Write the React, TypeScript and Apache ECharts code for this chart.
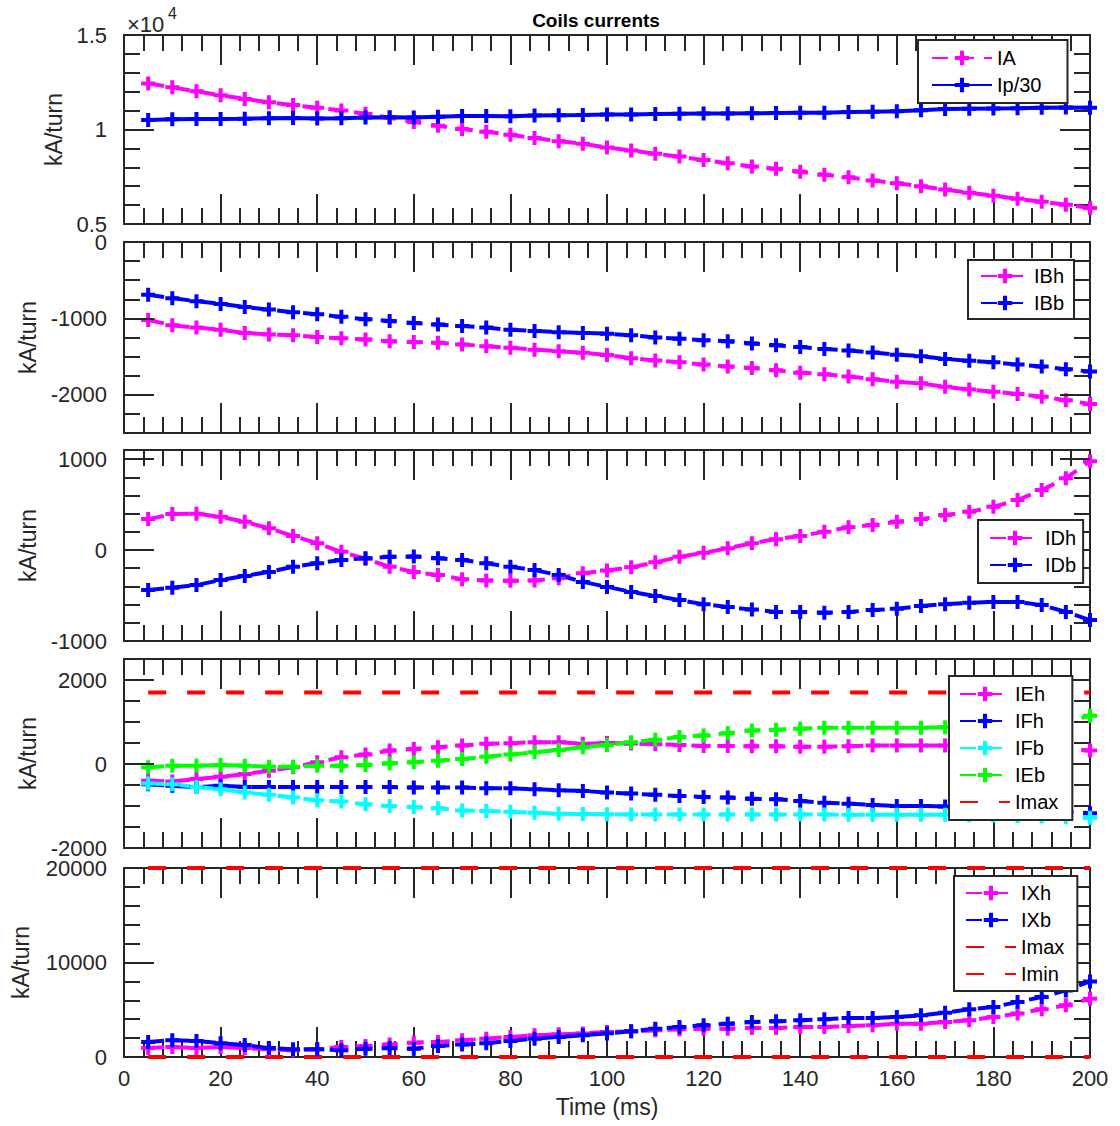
import React, { useEffect, useRef } from "react";
import * as echarts from "echarts";

// ---------- data ----------
const TIME = [5, 10, 15, 20, 25, 30, 35, 40, 45, 50, 55, 60, 65, 70, 75, 80, 85, 90, 95, 100,
  105, 110, 115, 120, 125, 130, 135, 140, 145, 150, 155, 160, 165, 170, 175, 180, 185, 190, 195, 200];
const LIMIT_TIME = [5, 200];

// Panel 1
const IA = [12440, 12230, 12020, 11810, 11620, 11440, 11290, 11150, 11000, 10830, 10620, 10400, 10200, 10030, 9880, 9720, 9550, 9380, 9240, 9050,
  8890, 8720, 8570, 8380, 8220, 8040, 7920, 7770, 7600, 7470, 7300, 7150, 7000, 6820, 6650, 6500, 6330, 6180, 6020, 5850];
const IP30 = [10500, 10540, 10550, 10560, 10570, 10600, 10610, 10580, 10590, 10640, 10650, 10640, 10670, 10720, 10720, 10700, 10740, 10760, 10770, 10790,
  10800, 10820, 10830, 10840, 10850, 10860, 10870, 10880, 10880, 10920, 10940, 10960, 11020, 11080, 11100, 11110, 11120, 11150, 11160, 11150];

// Panel 2
const IBH = [-1020, -1090, -1120, -1150, -1190, -1210, -1220, -1245, -1260, -1275, -1300, -1310, -1320, -1340, -1365, -1385, -1410, -1430, -1450, -1480,
  -1520, -1550, -1575, -1605, -1630, -1650, -1680, -1710, -1730, -1760, -1795, -1830, -1850, -1895, -1930, -1960, -1990, -2025, -2070, -2120];
const IBB = [-690, -735, -775, -810, -850, -885, -920, -945, -980, -1010, -1035, -1060, -1080, -1100, -1120, -1150, -1165, -1180, -1190, -1200,
  -1220, -1250, -1265, -1285, -1300, -1330, -1350, -1375, -1400, -1420, -1445, -1475, -1495, -1530, -1555, -1575, -1605, -1630, -1665, -1695];

// Panel 3
const IDH = [340, 395, 400, 365, 310, 240, 155, 75, -20, -95, -185, -240, -275, -320, -335, -338, -335, -310, -255, -225,
  -190, -135, -75, -30, 20, 75, 120, 155, 200, 250, 275, 310, 340, 385, 420, 475, 550, 660, 790, 975];
const IDB = [-440, -415, -385, -330, -285, -240, -185, -145, -110, -90, -75, -72, -90, -110, -145, -185, -220, -275, -350, -405,
  -460, -505, -550, -595, -625, -655, -680, -680, -690, -680, -660, -645, -615, -595, -580, -570, -570, -605, -680, -770];

// Panel 4
const IEH = [-400, -415, -360, -305, -240, -160, -80, 40, 160, 225, 320, 360, 400, 440, 480, 495, 520, 520, 480, 500,
  490, 470, 455, 430, 430, 420, 420, 410, 410, 420, 440, 440, 440, 440, 450, 450, 440, 420, 380, 320];
const IFH = [-480, -520, -550, -520, -545, -545, -545, -545, -545, -550, -550, -560, -560, -560, -580, -580, -600, -625, -640, -680,
  -705, -735, -760, -785, -800, -825, -840, -880, -920, -945, -975, -1000, -1000, -1010, -1030, -1050, -1070, -1100, -1130, -1170];
const IFB = [-465, -480, -545, -600, -680, -735, -800, -865, -895, -960, -1000, -1025, -1055, -1105, -1120, -1135, -1160, -1185, -1190, -1195,
  -1200, -1200, -1200, -1200, -1205, -1205, -1205, -1205, -1205, -1210, -1210, -1210, -1210, -1210, -1220, -1230, -1240, -1250, -1260, -1280];
const IEB = [-80, -40, -40, -25, -40, -65, -65, -40, -40, -25, 15, 40, 80, 120, 175, 225, 280, 335, 400, 455,
  520, 575, 640, 680, 735, 800, 815, 840, 865, 865, 865, 865, 865, 875, 880, 880, 890, 920, 1000, 1150];
const IMAX_E = [1700, 1700];

// Panel 5
const IXH = [950, 1060, 950, 1060, 950, 810, 710, 810, 1060, 1160, 1310, 1520, 1590, 1770, 1940, 2120, 2290, 2400, 2500, 2650,
  2720, 2820, 2930, 3000, 3000, 3070, 3070, 3170, 3170, 3280, 3350, 3530, 3530, 3700, 3880, 4230, 4590, 5050, 5470, 6170];
const IXB = [1590, 1770, 1700, 1450, 1270, 950, 810, 810, 710, 880, 950, 880, 1160, 1310, 1450, 1700, 1940, 2120, 2290, 2500,
  2720, 3000, 3170, 3350, 3530, 3700, 3770, 3880, 3990, 4130, 4130, 4230, 4410, 4690, 5050, 5290, 5820, 6350, 7050, 8000];
const IMAX_X = [20000, 20000];
const IMIN_X = [0, 0];

// Axes
const X_TICKS = [0, 20, 40, 60, 80, 100, 120, 140, 160, 180, 200];
const Y_MIN = [5000, -2500, -1000, -2000, 0];
const Y_MAX = [15000, 0, 1100, 2500, 20000];
const Y_MINOR = [1000, 250, 200, 500, 2000];
const Y_MAJOR = [
  [10000],
  [-2000, -1000],
  [0, 1000],
  [0, 2000],
  [10000],
];
const Y_LABELS = [
  [5000, 10000, 15000],
  [-2000, -1000, 0],
  [-1000, 0, 1000],
  [-2000, 0, 2000],
  [0, 10000, 20000],
];

// ---------- style / layout ----------
const FONT = "'Liberation Sans', Arial, Helvetica, sans-serif";
const AXIS = "#262626";
const MAGENTA = "#ff00ff";
const BLUE = "#0000ff";
const CYAN = "#00ffff";
const GREEN = "#00ff00";
const RED = "#ff0000";
const PLUS = "path://M5,0H9V5H14V9H9V14H5V9H0V5H5Z";
const PANEL_TOPS = [35, 242, 450, 659, 868];
const PANEL_HEIGHTS = [189, 191, 191, 189, 189];
const Y_NAME_GAP = [53, 85, 85, 85, 92];
const MAJOR_TICK_X = 6.2; // ~30px in x units

function series(name: string, p: number, xs: number[], ys: number[], color: string, dash: any, marker: boolean) {
  return {
    type: "line",
    name,
    xAxisIndex: p * 2,
    yAxisIndex: p * 2,
    data: xs.map((x, i) => [x, ys[i]]),
    symbol: marker ? PLUS : "none",
    symbolSize: 14,
    showSymbol: marker,
    showAllSymbol: true,
    lineStyle: { color, width: 4, type: dash, cap: "butt" },
    itemStyle: { color, borderWidth: 0 },
    clip: false,
    emphasis: { disabled: true },
    silent: true,
  };
}

// long (major) y ticks on both sides, drawn in the axes' own coordinates
function majorTicks(p: number) {
  const xMin = X_TICKS[0];
  const xMax = X_TICKS[X_TICKS.length - 1];
  const data: any[] = [];
  Y_MAJOR[p].forEach((v) => {
    data.push([{ coord: [xMin, v] }, { coord: [xMin + MAJOR_TICK_X, v] }]);
    data.push([{ coord: [xMax - MAJOR_TICK_X, v] }, { coord: [xMax, v] }]);
  });
  return {
    silent: true,
    symbol: ["none", "none"],
    label: { show: false },
    lineStyle: { color: AXIS, width: 2, type: "solid" },
    emphasis: { disabled: true },
    data,
  };
}

const DASH = [16, 10];
const RDASH = [18, 21];

function buildOption() {
  const grids: any[] = [];
  const xAxes: any[] = [];
  const yAxes: any[] = [];
  const tickLine = { color: AXIS, width: 2 };
  for (let p = 0; p < 5; p++) {
    grids.push({ left: 124, right: 30, top: PANEL_TOPS[p], height: PANEL_HEIGHTS[p], show: false });
    const last = p === 4;
    const xBase = {
      type: "value",
      gridIndex: p,
      offset: 0,
      min: X_TICKS[0],
      max: X_TICKS[X_TICKS.length - 1],
      interval: X_TICKS[1] - X_TICKS[0],
      axisLine: { show: true, onZero: false, lineStyle: tickLine },
      axisTick: { show: true, inside: true, length: 30, lineStyle: tickLine },
      minorTick: { show: true, splitNumber: 5, length: 16, lineStyle: tickLine },
      splitLine: { show: false },
      minorSplitLine: { show: false },
    };
    xAxes.push({
      ...xBase,
      position: "bottom",
      axisLabel: { show: last, margin: 10, fontSize: 22, color: AXIS, fontFamily: FONT },
      name: last ? "Time (ms)" : "",
      nameLocation: "middle",
      nameGap: 38,
      nameTextStyle: { fontSize: 23, color: AXIS, fontFamily: FONT },
    });
    xAxes.push({ ...xBase, position: "top", axisLabel: { show: false } });

    const labels = Y_LABELS[p];
    const fmt = (v: number) => {
      if (!labels.some((m) => Math.abs(m - v) < 1e-6)) return "";
      return p === 0 ? String(v / 10000) : String(v);
    };
    const yBase = {
      type: "value",
      gridIndex: p,
      offset: 0,
      min: Y_MIN[p],
      max: Y_MAX[p],
      interval: Y_MINOR[p],
      splitLine: { show: false },
      minorSplitLine: { show: false },
      axisLine: { show: true, onZero: false, lineStyle: tickLine },
      axisTick: { show: true, inside: true, length: 16, lineStyle: tickLine },
    };
    yAxes.push({
      ...yBase,
      position: "left",
      axisLabel: { show: true, margin: 17, fontSize: 22, color: AXIS, fontFamily: FONT, formatter: fmt },
      name: "kA/turn",
      nameLocation: "middle",
      nameGap: Y_NAME_GAP[p],
      nameTextStyle: { fontSize: 23, color: AXIS, fontFamily: FONT },
    });
    yAxes.push({ ...yBase, position: "right", axisLabel: { show: false } });
  }

  const allSeries: any[] = [
    series("IA", 0, TIME, IA, MAGENTA, DASH, true),
    series("Ip/30", 0, TIME, IP30, BLUE, "solid", true),
    series("IBh", 1, TIME, IBH, MAGENTA, DASH, true),
    series("IBb", 1, TIME, IBB, BLUE, DASH, true),
    series("IDh", 2, TIME, IDH, MAGENTA, DASH, true),
    series("IDb", 2, TIME, IDB, BLUE, DASH, true),
    series("IEh", 3, TIME, IEH, MAGENTA, DASH, true),
    series("IFh", 3, TIME, IFH, BLUE, DASH, true),
    series("IFb", 3, TIME, IFB, CYAN, DASH, true),
    series("IEb", 3, TIME, IEB, GREEN, DASH, true),
    series("Imax", 3, LIMIT_TIME, IMAX_E, RED, RDASH, false),
    series("IXh", 4, TIME, IXH, MAGENTA, DASH, true),
    series("IXb", 4, TIME, IXB, BLUE, DASH, true),
    series("Imax", 4, LIMIT_TIME, IMAX_X, RED, RDASH, false),
    series("Imin", 4, LIMIT_TIME, IMIN_X, RED, RDASH, false),
  ];
  // attach the long y ticks to the first series of each panel
  const firstOfPanel = [0, 2, 4, 6, 11];
  firstOfPanel.forEach((si, p) => {
    allSeries[si].markLine = majorTicks(p);
  });

  const legendBase = {
    orient: "vertical",
    itemHeight: 18,
    itemGap: 7,
    backgroundColor: "#ffffff",
    borderColor: AXIS,
    borderWidth: 2,
    borderRadius: 0,
    selectedMode: false,
    textStyle: { fontSize: 20, color: "#000", fontFamily: FONT },
    z: 10,
  };
  const noSym = (name: string) => ({ name, itemStyle: { opacity: 0 } });
  const legends = [
    { ...legendBase, left: 918, top: 40, itemWidth: 60, padding: [8, 26, 8, 13], data: ["IA", "Ip/30"] },
    { ...legendBase, left: 968, top: 260, itemWidth: 48, padding: [6, 10, 6, 12], data: ["IBh", "IBb"] },
    { ...legendBase, left: 978, top: 520, itemWidth: 50, padding: [8, 7, 8, 11], data: ["IDh", "IDb"] },
    { ...legendBase, left: 949, top: 676, itemWidth: 50, padding: [8, 14, 8, 10], data: ["IEh", "IFh", "IFb", "IEb", noSym("Imax")] },
    { ...legendBase, left: 954, top: 876, itemWidth: 50, padding: [7, 13, 7, 11], data: ["IXh", "IXb", noSym("Imax"), noSym("Imin")] },
  ];

  return {
    animation: false,
    backgroundColor: "#ffffff",
    textStyle: { fontFamily: FONT },
    grid: grids,
    xAxis: xAxes,
    yAxis: yAxes,
    legend: legends,
    series: allSeries,
    graphic: [
      {
        type: "text",
        x: 596,
        y: 20,
        style: {
          text: "Coils currents",
          fontSize: 19,
          fontWeight: "bold",
          fontFamily: FONT,
          fill: "#000",
          align: "center",
          verticalAlign: "middle",
          textAlign: "center",
          textVerticalAlign: "middle",
        },
      },
      {
        type: "text",
        x: 127,
        y: 24,
        style: {
          text: "×10",
          fontSize: 22,
          fontFamily: FONT,
          fill: AXIS,
          align: "left",
          verticalAlign: "middle",
          textAlign: "left",
          textVerticalAlign: "middle",
        },
      },
      {
        type: "text",
        x: 168,
        y: 13,
        style: {
          text: "4",
          fontSize: 16,
          fontFamily: FONT,
          fill: AXIS,
          align: "left",
          verticalAlign: "middle",
          textAlign: "left",
          textVerticalAlign: "middle",
        },
      },
    ],
  };
}

export default function App() {
  const ref = useRef<HTMLDivElement>(null);
  useEffect(() => {
    if (!ref.current) return;
    const chart = echarts.init(ref.current, null, { renderer: "svg" });
    chart.setOption(buildOption() as any);
    return () => chart.dispose();
  }, []);
  return (
    <div
      ref={ref}
      style={{ position: "absolute", left: 0, top: 0, width: 1120, height: 1126, background: "#fff" }}
    />
  );
}
